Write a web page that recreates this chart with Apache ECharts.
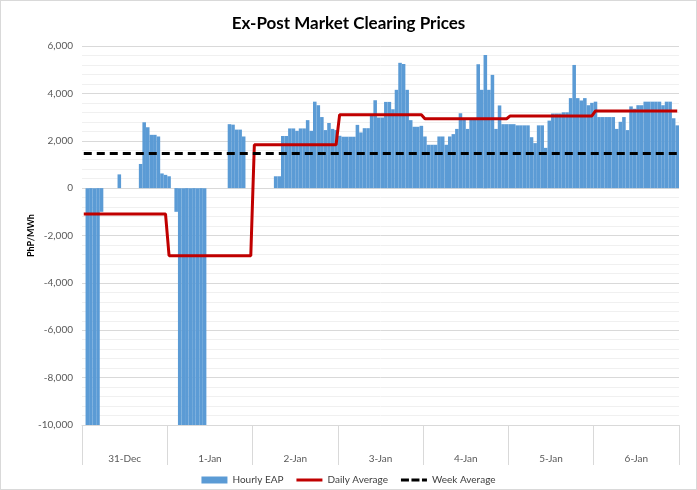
<!DOCTYPE html>
<html lang="en">
<head>
    <meta charset="UTF-8">
    <title>Ex-Post Market Clearing Prices</title>
    <script src="https://cdn.jsdelivr.net/npm/echarts@6/dist/echarts.min.js"></script>
    <style>
        body {margin: 0; background: #fff;}
        #main {width: 697px; height: 490px; box-sizing: border-box; border: 1px solid #d9d9d9;}
    </style>
</head>
<body>
<div id="main"></div>
<script>
    // hourly EAP per day, PhP/MWh
    var days = ['31-Dec', '1-Jan', '2-Jan', '3-Jan', '4-Jan', '5-Jan', '6-Jan'];
    var dec31 = [0, -10000, -10000, -10000, -10000, -1000, 0, 0, 0, 0, 580, 0, 0, 0, 0, 0, 1020, 2780, 2570, 2250, 2250, 2180, 620, 560];
    var jan1 = [500, 0, -1000, -10000, -10000, -10000, -10000, -10000, -10000, -10000, -10000, 0, 0, 0, 0, 0, 0, 2700, 2680, 2470, 2470, 2180, 0, 0];
    var jan2 = [0, 0, 0, 0, 0, 0, 500, 500, 2200, 2200, 2520, 2520, 2420, 2520, 2520, 2870, 2420, 3650, 3500, 3000, 2450, 2750, 2500, 2450];
    var jan3 = [2210, 2170, 2170, 2170, 2170, 2670, 2350, 2530, 2530, 3050, 3710, 2980, 2980, 3640, 3640, 3330, 4150, 5290, 5240, 4150, 2870, 2590, 2590, 2630];
    var jan4 = [2180, 1830, 1830, 1830, 2180, 2180, 1830, 2180, 2280, 2500, 3160, 2910, 2500, 2950, 2950, 5230, 4150, 5620, 4150, 4780, 2500, 3490, 2700, 2700];
    var jan5 = [2700, 2700, 2650, 2650, 2650, 2650, 2150, 1900, 2650, 2650, 1700, 2850, 3150, 3150, 3150, 3200, 3200, 3800, 5200, 3800, 3700, 3800, 3500, 3600];
    var jan6 = [3650, 3000, 3000, 3000, 3000, 3000, 2500, 2800, 3000, 2450, 3450, 3350, 3500, 3500, 3650, 3650, 3650, 3650, 3650, 3500, 3650, 3650, 2950, 2650];
    var dailyAvg = [-1090, -2850, 1830, 3100, 2930, 3050, 3260];
    var weekAvg = 1460;

    var hourly = [dec31, jan1, jan2, jan3, jan4, jan5, jan6];
    var hours = [], eap = [], daily = [], week = [];
    hourly.forEach(function (day, d) {
        day.forEach(function (v, h) {
            hours.push(days[d] + ' ' + h);
            eap.push(v);
            daily.push(dailyAvg[d]);
            week.push(weekAvg);
        });
    });

    var font = 'Lato, "Liberation Sans", Arial, sans-serif';
    var myChart = echarts.init(document.getElementById('main'));
    var option = {
        animation: false,
        textStyle: {fontFamily: font},
        title: {
            text: 'Ex-Post Market Clearing Prices',
            left: 'center',
            top: 9,
            textStyle: {fontSize: 17, fontWeight: 'bold', color: '#000', fontFamily: font}
        },
        legend: {
            top: 469,
            left: 'center',
            itemWidth: 26,
            itemHeight: 7,
            itemGap: 13,
            textStyle: {fontSize: 10, color: '#404040', fontFamily: font},
            data: [
                {name: 'Hourly EAP', icon: 'rect'},
                {name: 'Daily Average', icon: 'path://M0,0h26v3h-26z'},
                {name: 'Week Average', icon: 'path://M0,0h8v3h-8z M10.5,0h8v3h-8z M21,0h5v3h-5z'}
            ]
        },
        grid: {left: 81, right: 17, top: 45, bottom: 64},
        xAxis: [{
            type: 'category',
            data: hours,
            boundaryGap: true,
            axisLine: {show: false},
            axisTick: {show: false},
            axisLabel: {show: false}
        }, {
            type: 'category',
            data: days,
            position: 'bottom',
            boundaryGap: true,
            axisLine: {show: true, onZero: false, lineStyle: {color: '#d9d9d9'}},
            axisTick: {show: true, interval: 0, length: 40, lineStyle: {color: '#d9d9d9'}},
            axisLabel: {interval: 0, margin: 29, fontSize: 10, color: '#595959', fontFamily: font}
        }],
        yAxis: {
            type: 'value',
            min: -10000,
            max: 6000,
            interval: 2000,
            name: 'PhP/MWh',
            nameLocation: 'middle',
            nameGap: 46,
            nameMoveOverlap: false,
            nameRotate: 90,
            nameTextStyle: {fontSize: 9, fontWeight: 'bold', color: '#000', fontFamily: font},
            axisLine: {show: false},
            axisTick: {show: false},
            axisLabel: {
                fontSize: 10, color: '#595959', margin: 9, fontFamily: font,
                formatter: function (v) {
                    var s = Math.abs(v).toString().replace(/\B(?=(\d{3})+(?!\d))/g, ',');
                    return (v < 0 ? '-' : '') + s;
                }
            },
            splitLine: {lineStyle: {color: '#d9d9d9'}},
            minorTick: {show: false, splitNumber: 5},
            minorSplitLine: {show: true, lineStyle: {color: '#f0f0f0'}}
        },
        series: [{
            name: 'Hourly EAP',
            type: 'bar',
            xAxisIndex: 0,
            data: eap,
            barWidth: '100%',
            barGap: '-100%',
            itemStyle: {color: '#5b9bd5'}
        }, {
            name: 'Daily Average',
            type: 'line',
            xAxisIndex: 0,
            data: daily,
            showSymbol: false,
            symbol: 'none',
            lineStyle: {color: '#c00000', width: 3},
            itemStyle: {color: '#c00000'}
        }, {
            name: 'Week Average',
            type: 'line',
            xAxisIndex: 0,
            data: week,
            showSymbol: false,
            symbol: 'none',
            lineStyle: {color: '#000', width: 3, type: [8, 5]},
            itemStyle: {color: '#000'}
        }]
    };
    myChart.setOption(option);
</script>
</body>
</html>
